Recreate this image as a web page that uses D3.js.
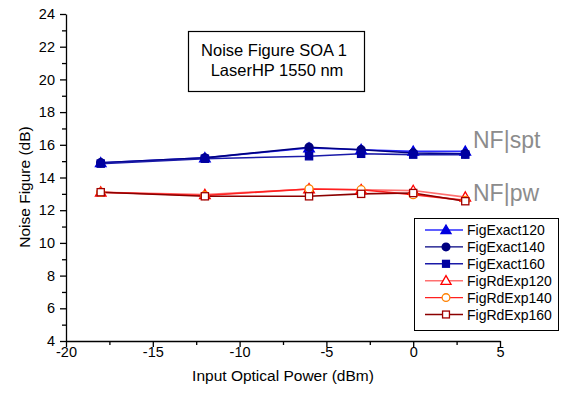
<!DOCTYPE html>
<html>
<head>
<meta charset="utf-8">
<script src="https://cdn.jsdelivr.net/npm/d3@7"></script>
<style>
  body { margin: 0; background: #fff; }
  svg { font-family: "Liberation Sans", Arial, sans-serif; }
</style>
</head>
<body>
<svg id="chart"></svg>
<script>
// Data
const powerDbm = [-18, -12, -6, -3, 0, 3];
const exact120 = [14.9, 15.2, 15.8, 15.7, 15.6, 15.6];
const exact140 = [14.9, 15.2, 15.85, 15.7, 15.5, 15.45];
const exact160 = [14.85, 15.15, 15.3, 15.45, 15.4, 15.4];
const rdExp120 = [13.1, 12.95, 13.3, 13.25, 13.2, 12.8];
const rdExp140 = [13.1, 12.9, 13.3, 13.25, 12.95, 12.6];
const rdExp160 = [13.1, 12.85, 12.85, 13.0, 13.05, 12.55];
const seriesNames = ["FigExact120", "FigExact140", "FigExact160", "FigRdExp120", "FigRdExp140", "FigRdExp160"];
const xTicks = [-20, -15, -10, -5, 0, 5];
const yTicks = [4, 6, 8, 10, 12, 14, 16, 18, 20, 22, 24];

const series = [
  { name: seriesNames[0], values: exact120, line: "#2a2aff", mark: "#0000e0", shape: "triangle", filled: true },
  { name: seriesNames[1], values: exact140, line: "#000080", mark: "#000080", shape: "circle", filled: true },
  { name: seriesNames[2], values: exact160, line: "#1a1aa8", mark: "#0000a0", shape: "square", filled: true },
  { name: seriesNames[3], values: rdExp120, line: "#ff7070", mark: "#ff0000", shape: "triangle", filled: false },
  { name: seriesNames[4], values: rdExp140, line: "#ff2020", mark: "#ff8000", shape: "circle", filled: false },
  { name: seriesNames[5], values: rdExp160, line: "#8b0000", mark: "#a00000", shape: "square", filled: false }
];

const width = 571, height = 396;
const svg = d3.select("#chart").attr("width", width).attr("height", height);

const x = d3.scaleLinear().domain([-20, 5]).range([66, 500]);
const y = d3.scaleLinear().domain([4, 24]).range([341, 14]);

// Axes
const xAxis = svg.append("g").attr("transform", `translate(0,${y(4)})`)
  .call(d3.axisBottom(x).tickValues(xTicks).tickSize(6).tickSizeOuter(0).tickPadding(0).tickFormat(d => String(d)));
const xMinor = svg.append("g").attr("transform", `translate(0,${y(4)})`)
  .call(d3.axisBottom(x).tickValues(xTicks.slice(0, -1).map(v => v + 2.5)).tickSize(4).tickSizeOuter(0).tickFormat(""));
xMinor.select(".domain").remove();

const yAxis = svg.append("g").attr("transform", `translate(${x(-20)},0)`)
  .call(d3.axisLeft(y).tickValues(yTicks).tickSize(6).tickSizeOuter(0).tickPadding(5).tickFormat(d => String(d)));
const yMinor = svg.append("g").attr("transform", `translate(${x(-20)},0)`)
  .call(d3.axisLeft(y).tickValues(yTicks.slice(0, -1).map(v => v + 1)).tickSize(4).tickSizeOuter(0).tickFormat(""));
yMinor.select(".domain").remove();

svg.selectAll(".domain, .tick line").attr("stroke", "#000").attr("stroke-width", 1.3);
svg.selectAll(".tick text").attr("font-size", 14.5).attr("fill", "#000")
  .attr("font-family", "Liberation Sans, Arial, sans-serif");
xAxis.selectAll(".tick text").attr("dy", "0.71em");

// Axis labels
svg.append("text")
  .attr("x", 283).attr("y", 381)
  .attr("text-anchor", "middle").attr("font-size", 15.5)
  .text("Input Optical Power (dBm)");

svg.append("text")
  .attr("text-anchor", "middle").attr("font-size", 15.5)
  .attr("transform", `translate(30, 187) rotate(-90)`)
  .text("Noise Figure (dB)");

// Lines and markers
const line = d3.line().x((d, i) => x(powerDbm[i])).y(d => y(d));

function drawMarker(g, s, cx, cy, r) {
  const fill = s.filled ? s.mark : "#fff";
  if (s.shape === "triangle") {
    g.append("path")
      .attr("d", d3.symbol(d3.symbolTriangle, r * r * 2.4)())
      .attr("transform", `translate(${cx},${cy + 0.8})`)
      .attr("fill", fill).attr("stroke", s.mark).attr("stroke-width", 1.3);
  } else if (s.shape === "circle") {
    g.append("circle").attr("cx", cx).attr("cy", cy).attr("r", r * 0.9)
      .attr("fill", fill).attr("stroke", s.mark).attr("stroke-width", 1.3);
  } else {
    g.append("rect").attr("x", cx - r * 0.8).attr("y", cy - r * 0.8)
      .attr("width", r * 1.6).attr("height", r * 1.6)
      .attr("fill", fill).attr("stroke", s.mark).attr("stroke-width", 1.3);
  }
}

const plot = svg.append("g");
series.forEach(s => {
  plot.append("path").datum(s.values)
    .attr("fill", "none").attr("stroke", s.line).attr("stroke-width", 1.6)
    .attr("d", line);
});
series.forEach(s => {
  const g = plot.append("g");
  s.values.forEach((v, i) => drawMarker(g, s, x(powerDbm[i]), y(v), 4.5));
});

// Title box
const titleBox = svg.append("g");
titleBox.append("rect").attr("x", 188.5).attr("y", 31.5).attr("width", 176).attr("height", 60)
  .attr("fill", "#fff").attr("stroke", "#000").attr("stroke-width", 1.2);
titleBox.append("text").attr("x", 274).attr("y", 56).attr("text-anchor", "middle")
  .attr("font-size", 16.5).text("Noise Figure SOA 1");
titleBox.append("text").attr("x", 277).attr("y", 76).attr("text-anchor", "middle")
  .attr("font-size", 16.5).text("LaserHP 1550 nm");

// Side annotations
svg.append("text").attr("x", 473).attr("y", 148).attr("font-size", 23)
  .attr("fill", "#8c8c8c").text("NF|spt");
svg.append("text").attr("x", 473).attr("y", 200.5).attr("font-size", 23)
  .attr("fill", "#8c8c8c").text("NF|pw");

// Legend
const legend = svg.append("g");
legend.append("rect").attr("x", 414.5).attr("y", 218.5).attr("width", 144).attr("height", 112)
  .attr("fill", "#fff").attr("stroke", "#000").attr("stroke-width", 1);
series.forEach((s, i) => {
  const ly = 230 + i * 16.9;
  legend.append("line").attr("x1", 425).attr("x2", 463).attr("y1", ly).attr("y2", ly)
    .attr("stroke", s.line).attr("stroke-width", 1.4);
  drawMarker(legend, s, 446, ly, 4.3);
  legend.append("text").attr("x", 467).attr("y", ly + 5).attr("font-size", 14).text(s.name);
});
</script>
</body>
</html>
